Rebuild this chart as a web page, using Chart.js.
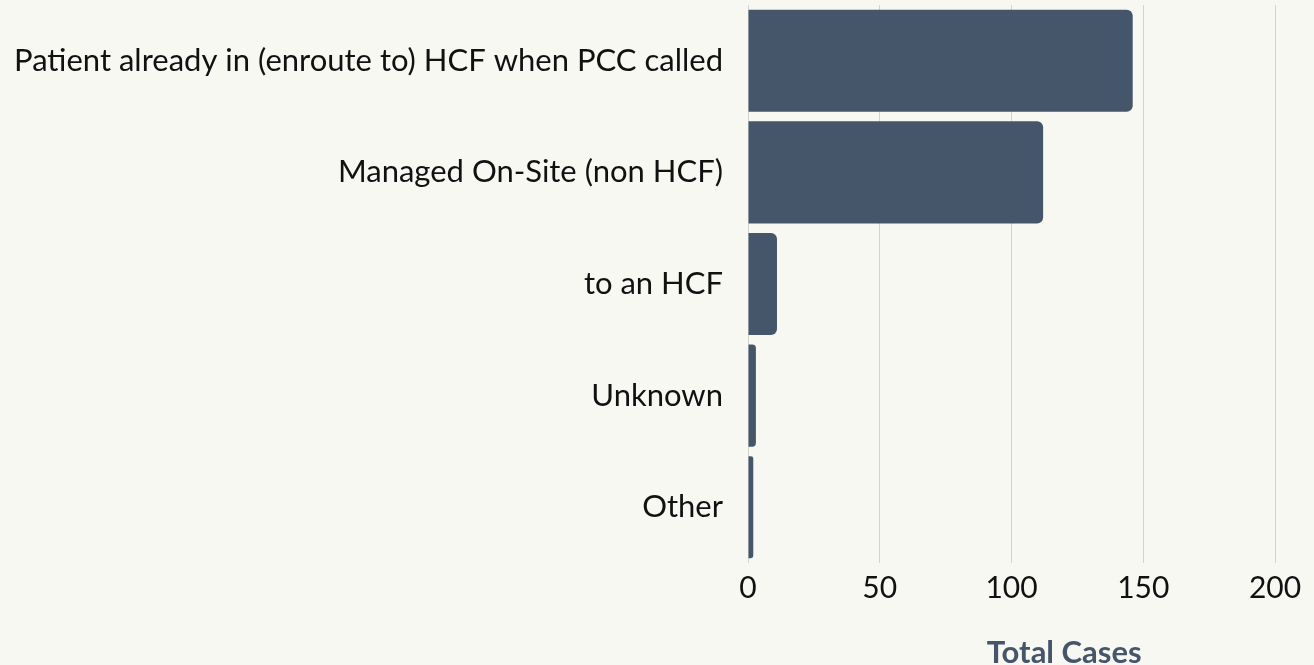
<!DOCTYPE html>
<html>
<head>
<meta charset="utf-8">
<script src="https://cdn.jsdelivr.net/npm/chart.js@4"></script>
<style>
html,body{margin:0;padding:0;background:#f8f8f2;}
#wrap{width:1314px;height:665px;position:relative;}
</style>
</head>
<body>
<div id="wrap"><canvas id="c"></canvas></div>
<script>
const categories = ["Patient already in (enroute to) HCF when PCC called", "Managed On-Site (non HCF)", "to an HCF", "Unknown", "Other"];
const totalCases = [146, 112, 11, 3, 2];
const xTicks = [0, 50, 100, 150, 200];
const axisTitle = "Total Cases";

const FONT = "Lato, 'Open Sans', sans-serif";

const titlePlugin = {
  id: 'xTitle',
  afterDraw(chart) {
    const x = chart.scales.x;
    const ctx = chart.ctx;
    ctx.save();
    ctx.font = "bold 31px " + FONT;
    ctx.fillStyle = "#45566b";
    ctx.textAlign = "center";
    ctx.textBaseline = "middle";
    ctx.fillText(axisTitle, x.getPixelForValue(120), x.bottom + 42);
    ctx.restore();
  }
};

new Chart(document.getElementById('c'), {
  type: 'bar',
  data: {
    labels: categories,
    datasets: [{
      data: totalCases,
      backgroundColor: '#45566b',
      borderRadius: 6,
      borderSkipped: 'start',
      barPercentage: 0.915,
      categoryPercentage: 1.0
    }]
  },
  options: {
    indexAxis: 'y',
    responsive: true,
    maintainAspectRatio: false,
    animation: false,
    layout: { padding: { top: 5, right: 39, bottom: 54, left: 0 } },
    plugins: { legend: { display: false }, tooltip: { enabled: false } },
    scales: {
      x: {
        min: 0, max: 200,
        afterBuildTicks(axis) { axis.ticks = xTicks.map(v => ({ value: v })); },
        afterFit(axis) { axis.height = 48; axis.paddingLeft = 0; axis.paddingRight = 0; },
        grid: { color: '#d4d4ce', lineWidth: 1, drawTicks: false },
        border: { display: false },
        ticks: { color: '#111', font: { family: FONT, size: 30 }, padding: 7, maxRotation: 0 }
      },
      y: {
        afterFit(axis) { axis.width = 748; axis.paddingTop = 0; axis.paddingBottom = 0; },
        grid: { display: false },
        border: { display: false },
        ticks: { color: '#111', font: { family: FONT, size: 31 }, padding: 17 }
      }
    }
  },
  plugins: [titlePlugin]
});
</script>
</body>
</html>
